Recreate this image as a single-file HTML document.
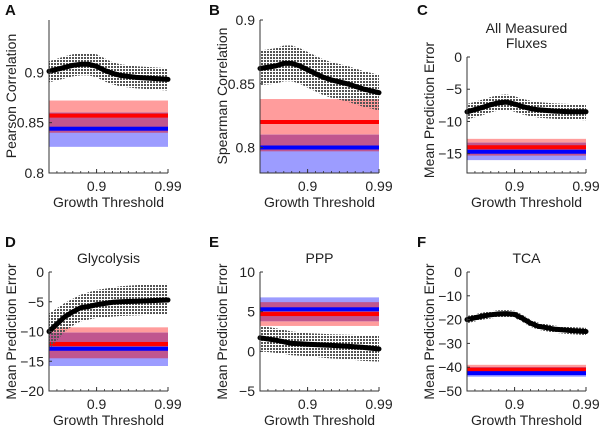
<!DOCTYPE html>
<html><head><meta charset="utf-8"><style>
body{margin:0;background:#fff;}
svg{display:block;font-family:"Liberation Sans",Arial,sans-serif;}
</style></head><body>
<svg id="fig" width="600" height="426" viewBox="0 0 600 426">
<defs>
<pattern id="hatch" width="3" height="3" patternUnits="userSpaceOnUse">
<rect x="0" y="0" width="2" height="2" fill="#555"/>
</pattern>
</defs>
</svg>
<script>
// Shared x data (growth threshold)
const xs = [0.84, 0.86, 0.87, 0.88, 0.89, 0.90, 0.91, 0.92, 0.93, 0.95, 0.97, 0.99];
// Panel A
const aMean = [0.901, 0.905, 0.907, 0.908, 0.908, 0.906, 0.902, 0.899, 0.897, 0.895, 0.894, 0.893];
const aUp   = [0.911, 0.916, 0.918, 0.919, 0.919, 0.918, 0.914, 0.910, 0.908, 0.906, 0.905, 0.904];
const aLo   = [0.890, 0.894, 0.896, 0.897, 0.897, 0.895, 0.891, 0.888, 0.886, 0.884, 0.883, 0.882];
const aRef  = [0.840, 0.857, 0.872, 0.826, 0.844, 0.860]; // redLo, redMid, redHi, blueLo, blueMid, blueHi
// Panel B
const bMean = [0.862, 0.864, 0.866, 0.866, 0.864, 0.861, 0.858, 0.855, 0.853, 0.850, 0.846, 0.843];
const bUp   = [0.876, 0.878, 0.880, 0.880, 0.878, 0.875, 0.872, 0.869, 0.867, 0.864, 0.860, 0.857];
const bLo   = [0.849, 0.850, 0.852, 0.852, 0.850, 0.847, 0.844, 0.841, 0.839, 0.836, 0.832, 0.829];
const bRef  = [0.797, 0.820, 0.838, 0.770, 0.800, 0.810];
// Panel C
const cMean = [-8.5, -7.8, -7.4, -7.1, -7.0, -7.3, -7.7, -8.0, -8.2, -8.4, -8.5, -8.5];
const cUp   = [-7.3, -6.6, -6.2, -5.9, -5.8, -6.1, -6.5, -6.8, -7.0, -7.2, -7.3, -7.3];
const cLo   = [-9.7, -9.0, -8.6, -8.3, -8.2, -8.5, -8.9, -9.2, -9.4, -9.6, -9.7, -9.8];
const cRef  = [-15.3, -14.0, -12.7, -16.0, -14.7, -13.3];
// Panel D
const dMean = [-10.0, -7.5, -6.7, -6.0, -5.8, -5.5, -5.3, -5.1, -5.0, -4.9, -4.8, -4.7];
const dUp   = [-7.0, -5.2, -4.5, -3.8, -3.4, -3.0, -2.8, -2.6, -2.4, -2.2, -2.1, -2.0];
const dLo   = [-13.0, -10.0, -9.0, -8.3, -8.0, -7.7, -7.6, -7.5, -7.4, -7.3, -7.2, -7.2];
const dRef  = [-14.5, -12.1, -9.3, -15.8, -12.9, -10.2];
// Panel E
const eMean = [1.7, 1.4, 1.2, 1.0, 0.95, 0.9, 0.85, 0.8, 0.75, 0.65, 0.5, 0.3];
const eUp   = [3.2, 2.9, 2.7, 2.5, 2.4, 2.3, 2.25, 2.2, 2.15, 2.1, 2.05, 2.0];
const eLo   = [0.0, -0.2, -0.3, -0.5, -0.55, -0.6, -0.7, -0.8, -0.9, -1.0, -1.2, -1.3];
const eRef  = [3.2, 4.7, 6.2, 3.8, 5.3, 6.8];
// Panel F
const fMean = [-20.0, -18.5, -18.0, -17.6, -17.5, -17.8, -19.5, -21.5, -22.8, -24.0, -24.6, -25.0];
const fUp   = [-18.5, -17.0, -16.5, -16.1, -16.0, -16.3, -18.0, -20.0, -21.3, -22.5, -23.1, -23.5];
const fLo   = [-21.5, -20.0, -19.5, -19.1, -19.0, -19.3, -21.0, -23.0, -24.3, -25.5, -26.1, -26.5];
const fRef  = [-42.0, -41.0, -39.0, -44.0, -42.5, -40.0];
// Axis tick labels
const xTickVals = [0.9, 0.99];
const xTickLabels = ["0.9", "0.99"];
const aTicks = [0.8, 0.85, 0.9]; const aTickLabels = ["0.8", "0.85", "0.9"];
const bTicks = [0.8, 0.85, 0.9]; const bTickLabels = ["0.8", "0.85", "0.9"];
const cTicks = [-15, -10, -5, 0]; const cTickLabels = ["\u221215", "\u221210", "\u22125", "0"];
const dTicks = [-20, -15, -10, -5, 0]; const dTickLabels = ["\u221220", "\u221215", "\u221210", "\u22125", "0"];
const eTicks = [-5, 0, 5, 10]; const eTickLabels = ["\u22125", "0", "5", "10"];
const fTicks = [-50, -40, -30, -20, -10, 0]; const fTickLabels = ["\u221250", "\u221240", "\u221230", "\u221220", "\u221210", "0"];

const NS = "http://www.w3.org/2000/svg";
const svg = document.getElementById('fig');
function mk(tag, attrs, parent) {
  const e = document.createElementNS(NS, tag);
  for (const k in attrs) e.setAttribute(k, attrs[k]);
  (parent || svg).appendChild(e);
  return e;
}
function txt(s, attrs, parent) { const t = mk('text', attrs, parent); t.textContent = s; return t; }

const panels = [
  {id:'a', letter:'A', x0:49, x1:168, y0:20, y1:173, ymin:0.8, ymax:0.952, mean:aMean, up:aUp, lo:aLo, ref:aRef, ticks:aTicks, tl:aTickLabels, ylabel:'Pearson Correlation', title:null, lx:5, ly:15},
  {id:'b', letter:'B', x0:260, x1:379, y0:20, y1:173, ymin:0.78, ymax:0.9, mean:bMean, up:bUp, lo:bLo, ref:bRef, ticks:bTicks, tl:bTickLabels, ylabel:'Spearman Correlation', title:null, lx:209, ly:15},
  {id:'c', letter:'C', x0:467, x1:586, y0:57, y1:173, ymin:-18, ymax:0, mean:cMean, up:cUp, lo:cLo, ref:cRef, ticks:cTicks, tl:cTickLabels, ylabel:'Mean Prediction Error', title:['All Measured','Fluxes'], lx:417, ly:15},
  {id:'d', letter:'D', x0:49, x1:168, y0:272, y1:391, ymin:-20, ymax:0, mean:dMean, up:dUp, lo:dLo, ref:dRef, ticks:dTicks, tl:dTickLabels, ylabel:'Mean Prediction Error', title:['Glycolysis'], lx:5, ly:247},
  {id:'e', letter:'E', x0:260, x1:379, y0:272, y1:391, ymin:-5, ymax:10, mean:eMean, up:eUp, lo:eLo, ref:eRef, ticks:eTicks, tl:eTickLabels, ylabel:'Mean Prediction Error', title:['PPP'], lx:209, ly:247},
  {id:'f', letter:'F', x0:467, x1:586, y0:272, y1:391, ymin:-50, ymax:0, mean:fMean, up:fUp, lo:fLo, ref:fRef, ticks:fTicks, tl:fTickLabels, ylabel:'Mean Prediction Error', title:['TCA'], lx:417, ly:247}
];
const XMIN = 0.84, XMAX = 0.99;

panels.forEach(p => {
  const g = mk('g', {});
  
  
  const sx = v => p.x0 + (v - XMIN) / (XMAX - XMIN) * (p.x1 - p.x0);
  const sy = v => p.y1 - (v - p.ymin) / (p.ymax - p.ymin) * (p.y1 - p.y0);
  const clip = mk('clipPath', {id:'clip-' + p.id}, g);
  mk('rect', {x:p.x0, y:p.y0, width:p.x1 - p.x0 + 2, height:p.y1 - p.y0}, clip);
  const body = mk('g', {'clip-path':'url(#clip-' + p.id + ')'}, g);
  const [rLo, rMid, rHi, bLo2, bMid, bHi] = p.ref;
  const band = (lo, hi, fill, name) => {
    const r = mk('rect', {x:p.x0, y:sy(hi), width:p.x1 - p.x0, height:sy(lo) - sy(hi), fill:fill}, body);
    
    
  };
  const hline = (v, fill, name) => {
    const r = mk('rect', {x:p.x0, y:sy(v) - 2, width:p.x1 - p.x0, height:4, fill:fill}, body);
    
    
  };
  band(rLo, rHi, '#ff9c9c', 'red-band');
  band(bLo2, bHi, '#9c9cff', 'blue-band');
  const oLo = Math.max(rLo, bLo2), oHi = Math.min(rHi, bHi);
  if (oHi > oLo) band(oLo, oHi, '#c0568f', 'overlap-band');
  hline(rMid, '#ff0000', 'red-line');
  hline(bMid, '#0000ff', 'blue-line');
  let d = xs.map((x, i) => (i ? 'L' : 'M') + sx(x).toFixed(1) + ',' + sy(p.up[i]).toFixed(1)).join('');
  for (let i = xs.length - 1; i >= 0; i--) d += 'L' + sx(xs[i]).toFixed(1) + ',' + sy(p.lo[i]).toFixed(1);
  const area = mk('path', {d: d + 'Z', fill:'url(#hatch)'}, body);
  
  
  const ld = xs.map((x, i) => (i ? 'L' : 'M') + sx(x).toFixed(1) + ',' + sy(p.mean[i]).toFixed(1)).join('');
  const line = mk('path', {d: ld, fill:'none', stroke:'#000', 'stroke-width':5, 'stroke-linejoin':'round', 'stroke-linecap':'round'}, g);
  
  
  mk('path', {d:`M${p.x0},${p.y0}V${p.y1}H${p.x1}`, fill:'none', stroke:'#333', 'stroke-width':1}, g);
  for (let v = 0.85; v <= 0.9901; v += 0.01) {
    mk('line', {x1:sx(v), x2:sx(v), y1:p.y1, y2:p.y1 - 2, stroke:'#333', 'stroke-width':0.8}, g);
  }
  xTickVals.forEach((v, i) => {
    mk('line', {x1:sx(v), x2:sx(v), y1:p.y1, y2:p.y1 - 4, stroke:'#333'}, g);
    const t = txt(xTickLabels[i], {x:sx(v), y:p.y1 + 18, 'font-size':14, 'text-anchor':'middle', fill:'#222'}, g);
    
    
  });
  p.ticks.forEach((v, i) => {
    mk('line', {x1:p.x0, x2:p.x0 + 3, y1:sy(v), y2:sy(v), stroke:'#333'}, g);
    const t = txt(p.tl[i], {x:p.x0 - 5, y:sy(v) + 5, 'font-size':14, 'text-anchor':'end', fill:'#222'}, g);
    
    
  });
  const xl = txt('Growth Threshold', {x:(p.x0 + p.x1) / 2, y:p.y1 + 34, 'font-size':14, 'text-anchor':'middle', fill:'#222'}, g);
  
  
  const ycx = p.x0 - 33, ycy = p.id === 'a' || p.id === 'b' ? 96 : (p.y0 + p.y1) / 2 - (p.id === 'c' ? 5 : 0);
  const yl = txt(p.ylabel, {x:ycx, y:ycy, 'font-size':14, 'text-anchor':'middle', fill:'#222', transform:`rotate(-90 ${ycx} ${ycy})`}, g);
  
  
  if (p.title) {
    const n = p.title.length;
    p.title.forEach((s, i) => {
      const t = txt(s, {x:(p.x0 + p.x1) / 2, y:p.y0 - 9 - (n - 1 - i) * 15, 'font-size':14, 'text-anchor':'middle', fill:'#222'}, g);
      
      
    });
  }
  const L = txt(p.letter, {x:p.lx, y:p.ly, 'font-size':15, 'font-weight':'bold', fill:'#111'}, g);
  
  
});
</script>
</body></html>
